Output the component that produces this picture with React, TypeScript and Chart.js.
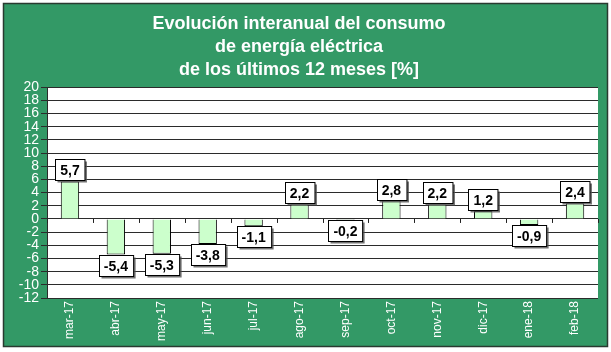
import React, { useEffect, useRef } from "react";
import { Chart, registerables } from "chart.js";

Chart.register(...registerables);

const categories = ["mar-17", "abr-17", "may-17", "jun-17", "jul-17", "ago-17", "sep-17", "oct-17", "nov-17", "dic-17", "ene-18", "feb-18"];
const values = [5.7, -5.4, -5.3, -3.8, -1.1, 2.2, -0.2, 2.8, 2.2, 1.2, -0.9, 2.4];
const titleLines = ["Evolución interanual del consumo", "de energía eléctrica", "de los últimos 12 meses [%]"];
const yMin = -12;
const yMax = 20;
const yStep = 2;

const GREEN = "#339966";
const FONT = "'Liberation Sans', Arial, sans-serif";

const backgroundPlugin = {
  id: "bgPlugin",
  beforeDraw(chart: any) {
    const { ctx, width, height, chartArea } = chart;
    ctx.save();
    ctx.fillStyle = "#ffffff";
    ctx.fillRect(0, 0, width, height);
    ctx.fillStyle = GREEN;
    ctx.fillRect(3, 3, width - 6, height - 8);
    ctx.strokeStyle = "#2a3a30";
    ctx.lineWidth = 1.5;
    ctx.strokeRect(3.5, 3.5, width - 7, height - 9);
    ctx.fillStyle = "#ffffff";
    ctx.fillRect(chartArea.left, chartArea.top, chartArea.right - chartArea.left, chartArea.bottom - chartArea.top);
    ctx.restore();
  },
};

const labelPlugin = {
  id: "labelPlugin",
  afterDatasetsDraw(chart: any) {
    const { ctx, scales } = chart;
    const x = scales.x;
    const y = scales.y;
    const zero = y.getPixelForValue(0);
    ctx.save();
    ctx.strokeStyle = "#222";
    ctx.lineWidth = 1;
    for (let i = 0; i <= categories.length; i++) {
      const px = Math.round(x.getPixelForValue(i - 0.5)) + 0.5;
      ctx.beginPath();
      ctx.moveTo(px, zero);
      ctx.lineTo(px, zero + 4);
      ctx.stroke();
    }
    const meta = chart.getDatasetMeta(0);
    ctx.font = "bold 14px " + FONT;
    ctx.textAlign = "center";
    ctx.textBaseline = "middle";
    meta.data.forEach((bar: any, i: number) => {
      const v = values[i];
      const txt = v.toFixed(1).replace(".", ",");
      const w = ctx.measureText(txt).width + 10;
      const h = 21;
      const cx = bar.x;
      const top = v >= 0 ? bar.y - h - 1 : bar.y;
      const left = Math.round(cx - w / 2) + 0.5;
      const t = Math.round(top) + 0.5;
      ctx.fillStyle = "rgba(80,80,80,0.8)";
      ctx.fillRect(left + 2, t + 2, w, h);
      ctx.fillStyle = "#ffffff";
      ctx.fillRect(left, t, w, h);
      ctx.strokeStyle = "#000";
      ctx.lineWidth = 1;
      ctx.strokeRect(left, t, w, h);
      ctx.fillStyle = "#000";
      ctx.fillText(txt, cx, t + h / 2 + 1);
    });
    ctx.restore();
  },
};

export default function App() {
  const ref = useRef<HTMLCanvasElement | null>(null);
  useEffect(() => {
    if (!ref.current) return;
    const chart = new Chart(ref.current, {
      type: "bar",
      data: {
        labels: categories,
        datasets: [
          {
            data: values,
            backgroundColor: "#ccffcc",
            borderColor: "#000000",
            borderWidth: 1,
            barPercentage: 0.4,
            categoryPercentage: 1,
          },
        ],
      },
      options: {
        animation: false,
        responsive: false,
        layout: { padding: { left: 0, right: 13, top: 0, bottom: 0 } },
        plugins: {
          legend: { display: false },
          tooltip: { enabled: false },
          title: {
            display: true,
            text: titleLines,
            color: "#ffffff",
            font: { family: FONT, size: 18, weight: "bold", lineHeight: 1.3 },
            padding: { top: 12, bottom: 5 },
          },
        },
        scales: {
          x: {
            grid: { display: false, drawTicks: false },
            border: { display: false },
            ticks: {
              color: "#ffffff",
              font: { family: FONT, size: 12 },
              minRotation: 90,
              maxRotation: 90,
              padding: 3,
              autoSkip: false,
            },
            afterFit(scale: any) {
              scale.height = 54;
            },
          },
          y: {
            min: yMin,
            max: yMax,
            grid: { color: "#2b2b2b", lineWidth: 1, tickLength: 6, tickColor: "#2b2b2b" },
            border: { display: true, color: "#2b2b2b" },
            ticks: {
              stepSize: yStep,
              autoSkip: false,
              color: "#ffffff",
              font: { family: FONT, size: 14 },
              padding: 2,
            },
            afterFit(scale: any) {
              scale.width = 47;
            },
          },
        },
      },
      plugins: [backgroundPlugin, labelPlugin],
    });
    return () => chart.destroy();
  }, []);
  return (
    <div style={{ position: "absolute", left: 0, top: 0, width: 611, height: 352 }}>
      <canvas ref={ref} width={611} height={352} style={{ width: 611, height: 352, display: "block" }} />
    </div>
  );
}
